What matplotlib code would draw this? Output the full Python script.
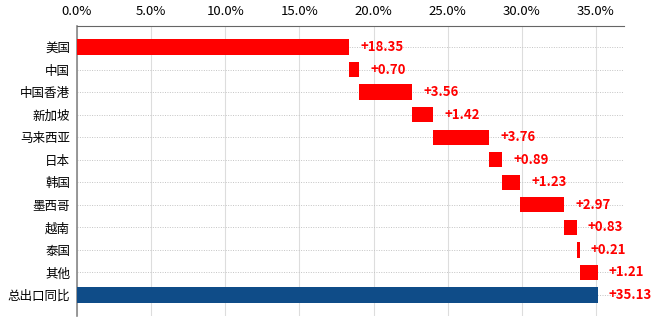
import matplotlib
matplotlib.use("Agg")
import matplotlib.pyplot as plt
import numpy as np

plt.rcParams['font.family'] = ['Noto Sans CJK SC', 'DejaVu Sans']

# 各地区对出口同比的拉动（百分点）
regions = ["美国", "中国", "中国香港", "新加坡", "马来西亚", "日本",
           "韩国", "墨西哥", "越南", "泰国", "其他"]
contrib = [18.35, 0.70, 3.56, 1.42, 3.76, 0.89, 1.23, 2.97, 0.83, 0.21, 1.21]
total_label = "总出口同比"
total_value = 35.13

labels = regions + [total_label]
starts = list(np.concatenate([[0], np.cumsum(contrib)[:-1]])) + [0]
widths = contrib + [total_value]
colors = ["#FF0000"] * len(regions) + ["#0F4C88"]

fig = plt.figure(figsize=(6.6, 3.23), dpi=100)
ax = fig.add_axes([0.1167, 0.0217, 0.8288, 0.8978])

y = np.arange(len(labels))
ax.barh(y, widths, left=starts, height=0.68, color=colors, zorder=3)

for yi, s, w in zip(y, starts, widths):
    ax.text(s + w + 0.75, yi, "+%.2f" % w, va="center", ha="left",
            color="#FF0000", fontsize=9.5, fontweight="bold", zorder=4)

ax.set_xlim(0, 36.9)
ax.set_ylim(len(labels) - 0.07, -0.93)
ax.set_xticks(np.arange(0, 36, 5))
ax.set_xticklabels(["%.1f%%" % v for v in np.arange(0, 36, 5)])
ax.xaxis.tick_top()
ax.set_yticks(y)
ax.set_yticklabels(labels)
ax.tick_params(axis="both", length=0, labelsize=9, colors="#000000")
ax.tick_params(axis="x", pad=6, labelsize=9.5)
ax.tick_params(axis="y", pad=5)

ax.grid(axis="x", color="#DDDDDD", linewidth=0.8, zorder=0)
ax.grid(axis="y", color="#C4C4C4", linewidth=0.7, linestyle=(0, (1, 1.5)), zorder=0)

for side in ["right", "bottom"]:
    ax.spines[side].set_visible(False)
ax.spines["top"].set_color("#666666")
ax.spines["left"].set_color("#888888")
ax.spines["left"].set_linewidth(1.2)

fig.savefig("out.png", dpi=100)
